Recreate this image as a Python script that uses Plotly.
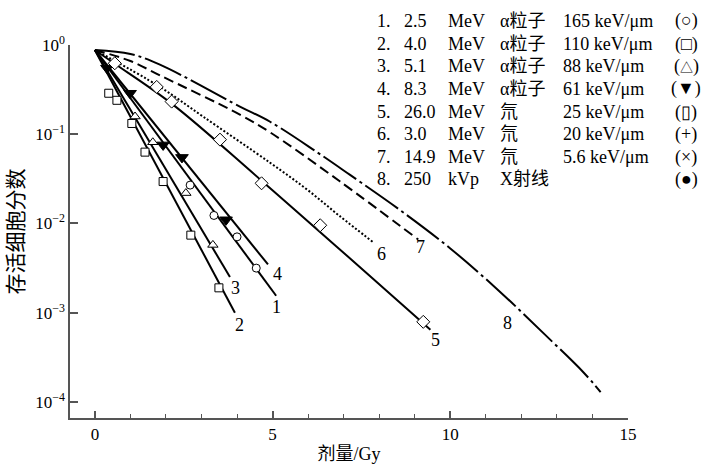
import math
import plotly.graph_objects as go

# ---------------- data ----------------
# 1. 2.5 MeV alpha (circles)
x1_line = [0, 5.1]
y1_line = [0.879, 0.00155]
x1_pts = [2.68, 3.35, 4.0, 4.54]
y1_pts = [0.0269, 0.0123, 0.00708, 0.00316]

# 2. 4.0 MeV alpha (squares)
x2_line = [0, 3.94]
y2_line = [0.879, 0.0010]
x2_pts = [0.39, 0.62, 1.04, 1.41, 1.92, 2.70, 3.49]
y2_pts = [0.288, 0.240, 0.132, 0.063, 0.0295, 0.0074, 0.0019]

# 3. 5.1 MeV alpha (open triangles)
x3_line = [0, 3.80]
y3_line = [0.879, 0.00251]
x3_pts = [1.13, 1.63, 2.56, 3.32]
y3_pts = [0.158, 0.0813, 0.0219, 0.00575]

# 4. 8.3 MeV alpha (filled down-triangles)
x4_line = [0, 4.87]
y4_line = [0.879, 0.00347]
x4_pts = [0.34, 0.99, 1.92, 2.45, 3.69]
y4_pts = [0.550, 0.288, 0.0759, 0.055, 0.011]

# 5. 26.0 MeV deuteron (diamonds)
x5_line = [0, 0.56, 2.17, 4.69, 9.44]
y5_line = [0.879, 0.617, 0.219, 0.0302, 0.000646]
x5_pts = [0.56, 1.74, 2.16, 3.52, 4.69, 6.34, 9.24]
y5_pts = [0.624, 0.339, 0.232, 0.087, 0.0282, 0.00955, 0.00079]

# 6. 3.0 MeV deuteron (dotted)
x6_line = [0, 1.83, 3.04, 4.93, 5.97, 6.9, 7.83]
y6_line = [0.879, 0.339, 0.158, 0.0479, 0.024, 0.012, 0.00617]

# 7. 14.9 MeV deuteron (dashed)
x7_line = [0, 1.0, 1.83, 4.08, 4.93, 6.9, 9.1]
y7_line = [0.879, 0.661, 0.457, 0.166, 0.105, 0.0295, 0.0066]

# 8. 250 kVp X-ray (dash-dot)
x8_line = [0, 1.0, 1.83, 4.08, 4.93, 6.25, 7.18, 8.59, 10.0, 11.41, 12.62, 13.75, 14.23]
y8_line = [0.879, 0.794, 0.603, 0.204, 0.138, 0.063, 0.035, 0.0141, 0.00525,
           0.0017, 0.00059, 0.000214, 0.000129]

curve_labels = ["1", "2", "3", "4", "5", "6", "7", "8"]
label_x = [5.10, 4.08, 3.97, 5.13, 9.58, 8.06, 9.15, 11.61]
label_y = [0.00115, 0.00072, 0.0019, 0.00275, 0.0005, 0.0045, 0.0055, 0.00076]

legend_num = ["1.", "2.", "3.", "4.", "5.", "6.", "7.", "8."]
legend_energy = ["2.5", "4.0", "5.1", "8.3", "26.0", "3.0", "14.9", "250"]
legend_unit = ["MeV", "MeV", "MeV", "MeV", "MeV", "MeV", "MeV", "kVp"]
legend_particle = ["α粒子", "α粒子", "α粒子", "α粒子", "氘", "氘", "氘", "X射线"]
legend_let = ["165 keV/μm", "110 keV/μm", "88 keV/μm", "61 keV/μm",
              "25 keV/μm", "20 keV/μm", "5.6 keV/μm", ""]
legend_sym = ["○", "□", "△", "▼", "▯", "+", "×", "●"]

ytick_vals = [1, 0.1, 0.01, 0.001, 0.0001]
ytick_text = ["10<sup>0</sup>", "10<sup>−1</sup>", "10<sup>−2</sup>",
              "10<sup>−3</sup>", "10<sup>−4</sup>"]
xtick_vals = [0, 5, 10, 15]

# ---------------- figure ----------------
SERIF = "Liberation Serif, Noto Sans CJK SC"
INK = "black"
AX = "#555555"

fig = go.Figure()

def line(x, y, dash="solid", shape="linear"):
    fig.add_trace(go.Scatter(x=x, y=y, mode="lines",
                             line=dict(color=INK, width=2, dash=dash, shape=shape),
                             showlegend=False, hoverinfo="skip"))

def pts(x, y, symbol, size, fill="white"):
    fig.add_trace(go.Scatter(x=x, y=y, mode="markers",
                             marker=dict(symbol=symbol, size=size, color=fill,
                                         line=dict(color=INK, width=1)),
                             showlegend=False, hoverinfo="skip"))

line(x1_line, y1_line)
line(x2_line, y2_line)
line(x3_line, y3_line)
line(x4_line, y4_line)
line(x5_line, y5_line, shape="spline")
line(x6_line, y6_line, dash="2px,2px", shape="spline")
line(x7_line, y7_line, dash="10px,5px", shape="spline")
line(x8_line, y8_line, dash="40px,4px,3px,4px", shape="spline")

pts(x1_pts, y1_pts, "circle", 8)
pts(x2_pts, y2_pts, "square", 8)
pts(x3_pts, y3_pts, "triangle-up", 9)
pts(x4_pts, y4_pts, "triangle-down", 11, fill=INK)
pts(x5_pts, y5_pts, "diamond", 10)

annotations = []
for t, lx, ly in zip(curve_labels, label_x, label_y):
    annotations.append(dict(x=lx, y=math.log10(ly), xref="x", yref="y",
                            text=t, showarrow=False,
                            font=dict(family=SERIF, size=18, color=INK)))

# legend block drawn as text (pixel positions -> paper coords)
L, R, T, B = 70, 628, 45, 418
def px(xp):
    return (xp - L) / (R - L)
def py(yp):
    return (B - yp) / (B - T)

row_y = [21, 44, 66, 89, 112, 134, 157, 179]
cols = [(375, legend_num), (402, legend_energy), (446, legend_unit),
        (498, legend_particle), (561, legend_let)]
for i, ry in enumerate(row_y):
    for cx, arr in cols:
        if arr[i]:
            annotations.append(dict(x=px(cx), y=py(ry), xref="paper", yref="paper",
                                    xanchor="left", yanchor="middle", text=arr[i],
                                    showarrow=False,
                                    font=dict(family=SERIF, size=18, color=INK)))
    sym = legend_sym[i]
    if sym == "△":
        sym = "<span style='font-size:13px'>△</span>"
    annotations.append(dict(x=px(686), y=py(ry), xref="paper", yref="paper",
                            xanchor="center", yanchor="middle",
                            text="(" + sym + ")", showarrow=False,
                            font=dict(family=SERIF, size=18, color=INK)))

fig.update_layout(
    width=703, height=464,
    margin=dict(l=L, r=703 - R, t=T, b=464 - B, autoexpand=False),
    paper_bgcolor="white", plot_bgcolor="white",
    annotations=annotations,
    xaxis=dict(range=[-0.70, 15], showline=True, linecolor=AX, linewidth=1.5,
               ticks="inside", tickvals=xtick_vals, ticklen=7, tickcolor=AX,
               tickwidth=1.5, automargin=False,
               minor=dict(dtick=1, tick0=0, ticks="inside", ticklen=4,
                          tickcolor=AX, tickwidth=1),
               showgrid=False, zeroline=False,
               tickfont=dict(family=SERIF, size=17, color=INK),
               title=dict(text="剂量/Gy", standoff=10,
                          font=dict(family=SERIF, size=18, color=INK))),
    yaxis=dict(type="log", range=[-4.18, 0], showline=True, linecolor=AX,
               linewidth=1.5, ticks="inside", tickvals=ytick_vals,
               ticktext=ytick_text, ticklen=8, tickcolor=AX, tickwidth=1.5,
               showgrid=False, zeroline=False, automargin=False,
               tickfont=dict(family=SERIF, size=17, color=INK),
               title=dict(text="存活细胞分数", standoff=6,
                          font=dict(family=SERIF, size=21, color=INK))),
)

fig.write_html("out.html")
